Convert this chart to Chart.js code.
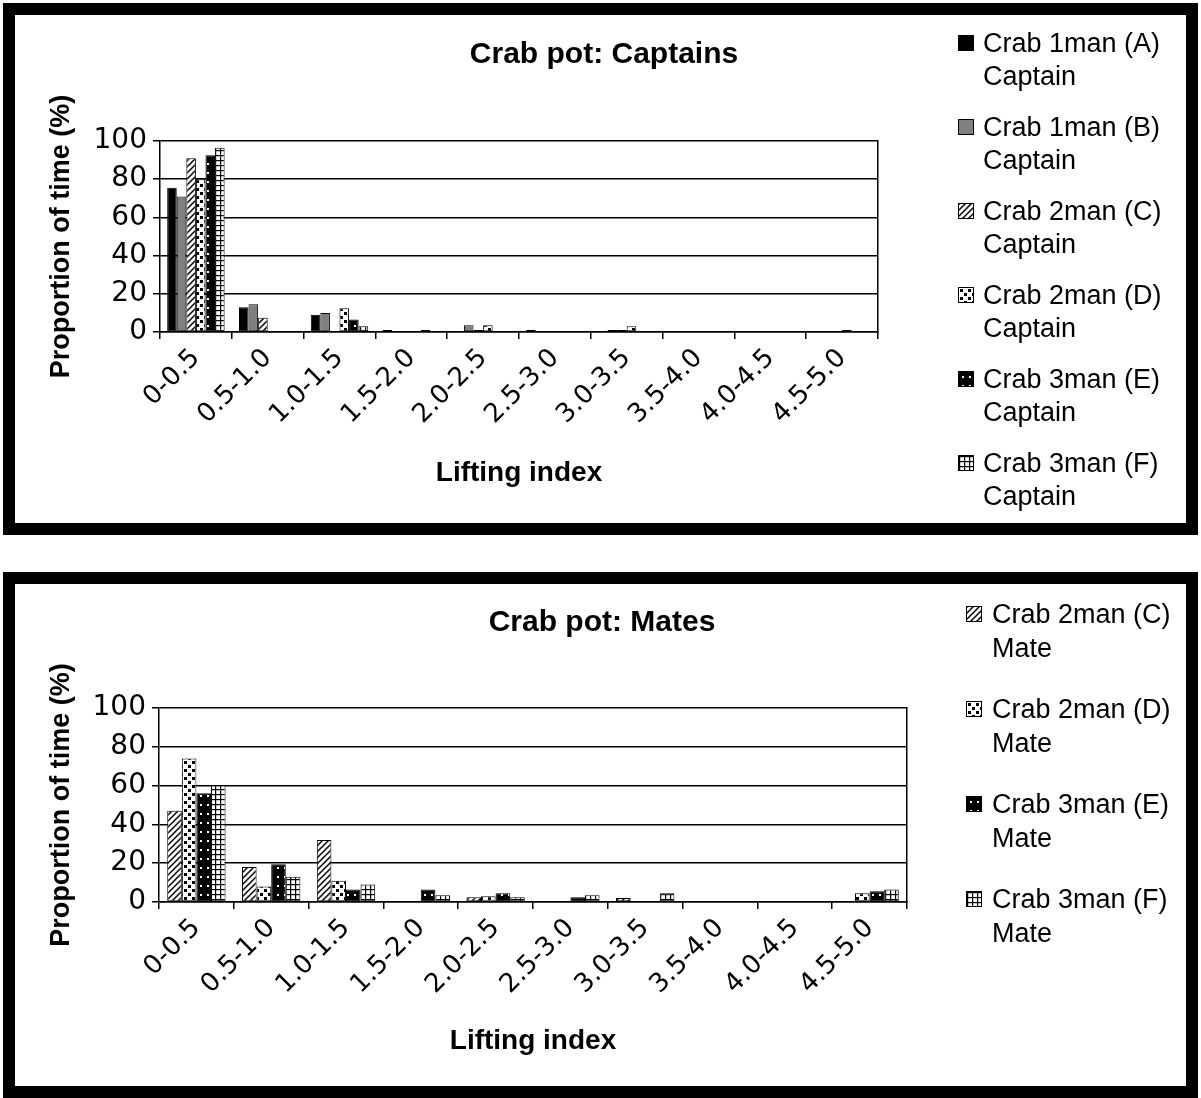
<!DOCTYPE html>
<html><head><meta charset="utf-8">
<script src="https://cdn.jsdelivr.net/npm/chart.js@4.4.1/dist/chart.umd.min.js"></script>
<style>
html,body{margin:0;padding:0;background:#fff;width:1201px;height:1098px;overflow:hidden;position:relative;}
.panel{position:absolute;left:3px;width:1195px;border:12px solid #000;box-sizing:border-box;background:#fff;}
#p1{top:3px;height:532px;}
#p2{top:572px;height:526px;}
.panel canvas{position:absolute;left:0;top:0;}
.legend{position:absolute;font-family:"Liberation Sans",Arial,sans-serif;font-size:27px;color:#000;}
.item{position:absolute;left:0;white-space:nowrap;}
.item canvas{position:absolute;left:0;border:1px solid #000;}
.item span{position:absolute;display:block;}
</style>
</head><body>
<div class="panel" id="p1"><canvas id="c1" width="1171" height="508"></canvas></div>
<div class="panel" id="p2"><canvas id="c2" width="1171" height="502"></canvas></div>
<div class="legend" id="lg1"></div>
<div class="legend" id="lg2"></div>
<script>
// ---- data ----
const categories = ['0-0.5','0.5-1.0','1.0-1.5','1.5-2.0','2.0-2.5','2.5-3.0','3.0-3.5','3.5-4.0','4.0-4.5','4.5-5.0'];
const yTicks = [0,20,40,60,80,100];
const titleCaptains = 'Crab pot: Captains';
const titleMates = 'Crab pot: Mates';
const xTitle = 'Lifting index';
const yTitle = 'Proportion of time (%)';

const captainSeries = ['Crab 1man (A)','Crab 1man (B)','Crab 2man (C)','Crab 2man (D)','Crab 3man (E)','Crab 3man (F)'];
const captainRole = 'Captain';
const captainA = [75.5, 13, 9, 1, 0, 1, 0, 0, 0, 0];
const captainB = [71, 14.5, 10, 0, 3.5, 0, 1, 0, 0, 0];
const captainC = [91, 7.5, 0, 0, 1, 0, 1, 0, 0, 0];
const captainD = [80, 0, 12.5, 0, 3.5, 0, 3, 0, 0, 1];
const captainE = [92.5, 0, 6.5, 1, 0, 0, 0, 0, 0, 0];
const captainF = [96.5, 0, 3, 0, 0, 0, 0, 0, 0, 0];

const mateSeries = ['Crab 2man (C)','Crab 2man (D)','Crab 3man (E)','Crab 3man (F)'];
const mateRole = 'Mate';
const mateC = [47, 18, 32, 0, 2.5, 0, 2, 0, 0, 0];
const mateD = [74, 8, 11, 0, 3, 0, 0, 0, 0, 4.5];
const mateE = [56, 19.5, 6.5, 6.5, 4.5, 2.5, 0, 0, 0, 5.5];
const mateF = [60, 13, 9, 3.5, 2.5, 3.5, 4.5, 0, 0, 6.5];

// ---- fills ----
function makeFill(kind, ctx){
  if(kind==='black') return '#000';
  if(kind==='gray') return '#808080';
  const t=document.createElement('canvas');
  const g=t.getContext('2d');
  if(kind==='hatch'){ t.width=6;t.height=6; g.fillStyle='#fff';g.fillRect(0,0,6,6); g.strokeStyle='#000'; g.lineWidth=1.5; g.beginPath();
    g.moveTo(-1,7);g.lineTo(7,-1); g.moveTo(-4,4);g.lineTo(4,-4); g.moveTo(2,10);g.lineTo(10,2); g.stroke(); }
  if(kind==='spots'){ t.width=8;t.height=8; g.fillStyle='#fff'; g.fillRect(0,0,8,8); g.fillStyle='#000'; g.fillRect(1,1,3,3); g.fillRect(5,5,3,3); }
  if(kind==='darkdots'){ t.width=7;t.height=9; g.fillStyle='#000'; g.fillRect(0,0,7,9); g.fillStyle='#fff'; g.fillRect(3,4,2,2); }
  if(kind==='grid'){ t.width=5;t.height=5; g.fillStyle='#fff'; g.fillRect(0,0,5,5); g.fillStyle='#000'; g.fillRect(0,0,5,1.2); g.fillRect(0,0,1.2,5); }
  return ctx.createPattern(t,'repeat');
}

function buildChart(canvasId, o){
  const ctx = document.getElementById(canvasId).getContext('2d');
  const datasets = o.series.map((name,i)=>({
    label: name + ' ' + o.role,
    data: o.values[i],
    backgroundColor: makeFill(o.fills[i], ctx),
    borderColor: '#000',
    borderWidth: 1,
    borderSkipped: false,
    categoryPercentage: o.catPct,
    barPercentage: 1.0
  }));
  return new Chart(ctx, {
    type: 'bar',
    data: { labels: categories, datasets },
    options: {
      responsive: false, animation: false, devicePixelRatio: 1,
      layout: { padding: { left: o.L, right: 0, top: 0, bottom: 0 } },
      plugins: {
        legend: { display: false }, tooltip: { enabled: false },
        title: { display: true, text: o.title, color: '#000',
          font: { family: '"Liberation Sans", Arial, sans-serif', size: 30, weight: 'bold' },
          padding: { top: o.titleTop, bottom: o.titleBottom } }
      },
      scales: {
        x: {
          grid: { display: true, drawOnChartArea: false, offset: true, tickLength: 7, color: '#000', lineWidth: 1.5 },
          border: { display: true, color: '#000', width: 1.5 },
          ticks: { color: '#000', autoSkip: false, minRotation: 45, maxRotation: 45, padding: 4,
            font: { family: '"DejaVu Sans", sans-serif', size: 26 } },
          title: { display: true, text: xTitle, color: '#000',
            font: { family: '"Liberation Sans", Arial, sans-serif', size: 28, weight: 'bold' },
            padding: { top: 0, bottom: o.xTitlePad } },
          afterFit: s => { s.height = o.xH; }
        },
        y: {
          min: yTicks[0], max: yTicks[yTicks.length-1],
          grid: { color: '#000', lineWidth: 1.5, tickLength: 7 },
          border: { display: true, color: '#000', width: 1.5 },
          ticks: { stepSize: yTicks[1]-yTicks[0], color: '#000', padding: 6,
            font: { family: '"DejaVu Sans", sans-serif', size: 28 } },
          title: { display: true, text: yTitle, color: '#000',
            font: { family: '"Liberation Sans", Arial, sans-serif', size: 27, weight: 'bold' },
            padding: { top: o.yTitlePad, bottom: 0 } },
          afterFit: s => { s.width = o.yW; }
        },
        yR: {
          type: 'linear', position: 'right', display: true,
          grid: { display: false }, ticks: { display: false },
          border: { display: true, color: '#000', width: 1.5 },
          afterFit: s => { s.width = o.rightW; }
        }
      }
    }
  });
}

function buildLegend(divId, o){
  const lg = document.getElementById(divId);
  lg.style.left = o.x + 'px'; lg.style.top = o.y + 'px';
  o.series.forEach((name,i)=>{
    const it = document.createElement('div');
    it.className = 'item';
    it.style.top = (i*o.step) + 'px';
    const sw = document.createElement('canvas');
    sw.width = 14; sw.height = 14;
    sw.style.top = (o.lh/2 - 8) + 'px';
    const sc = sw.getContext('2d');
    sc.fillStyle = makeFill(o.fills[i], sc); sc.fillRect(0,0,14,14);
    it.appendChild(sw);
    const l1 = document.createElement('span'); l1.textContent = name;
    l1.style.left = o.tx + 'px'; l1.style.top = '0px'; l1.style.lineHeight = o.lh + 'px';
    const l2 = document.createElement('span'); l2.textContent = o.role;
    l2.style.left = o.tx + 'px'; l2.style.top = o.lh + 'px'; l2.style.lineHeight = o.lh + 'px';
    it.appendChild(l1); it.appendChild(l2);
    lg.appendChild(it);
  });
}

const capFills = ['black','gray','hatch','spots','darkdots','grid'];
const mateFills = ['hatch','spots','darkdots','grid'];

buildChart('c1', { series: captainSeries, role: captainRole,
  values: [captainA, captainB, captainC, captainD, captainE, captainF], fills: capFills,
  title: titleCaptains, catPct: 0.8,
  L: 7, yW: 138, rightW: 308, xH: 191, titleTop: 22, titleBottom: 68, yTitlePad: 23.8, xTitlePad: 33.2 });

buildChart('c2', { series: mateSeries, role: mateRole,
  values: [mateC, mateD, mateE, mateF], fills: mateFills,
  title: titleMates, catPct: 0.78,
  L: 3, yW: 141, rightW: 279, xH: 184, titleTop: 21, titleBottom: 67, yTitlePad: 27.8, xTitlePad: 28.2 });

buildLegend('lg1', { series: captainSeries, role: captainRole, fills: capFills, x: 958, y: 26.5, step: 84, lh: 33, tx: 25 });
buildLegend('lg2', { series: mateSeries, role: mateRole, fills: mateFills, x: 966, y: 597, step: 95, lh: 34, tx: 26 });
</script>
</body></html>
